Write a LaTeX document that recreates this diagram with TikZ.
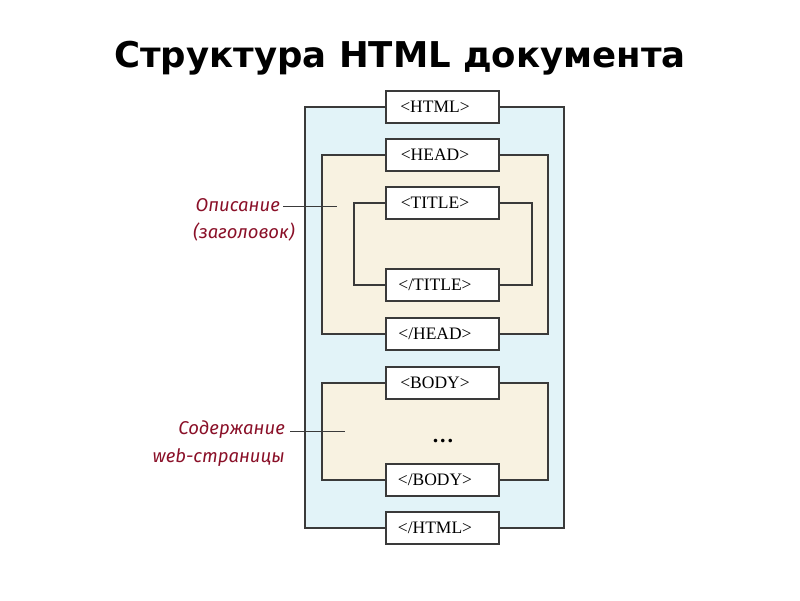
\documentclass[tikz,border=0pt]{standalone}
\usepackage{fontspec}
\setmainfont{Liberation Serif}
\newfontfamily\titlefont{DejaVu Sans}
\newfontfamily\labelfont{Fira Sans}
\definecolor{outerblue}{HTML}{E2F3F8}
\definecolor{cream}{HTML}{F8F2E1}
\definecolor{edge}{HTML}{3A3A3A}
\definecolor{lblred}{HTML}{8A1028}
\newcommand{\tg}[1]{#1\hspace*{15pt}}
\begin{document}
\begin{tikzpicture}[x=1pt,y=-1pt,
  tagbox/.style={draw=edge,line width=1.2pt,fill=white,minimum width=113pt,minimum height=32pt,inner sep=0pt,font=\fontsize{17.5}{17.5}\selectfont},
  container/.style={draw=edge,line width=1.2pt},
  lbl/.style={anchor=east,inner sep=0pt,text=lblred,font=\labelfont\itshape\fontsize{18.5}{18.5}\selectfont},
  lblline/.style={draw=edge,line width=0.8pt}]
\useasboundingbox (0,0) rectangle (800,600);
\node[font=\titlefont\bfseries\fontsize{35.5}{35.5}\selectfont] (title) at (400,58) {Структура HTML документа};
% containers
\coordinate (oTL) at (305,107); \coordinate (oBR) at (564,528);
\coordinate (hTL) at (322,155); \coordinate (hBR) at (548,334);
\coordinate (tTL) at (354,203); \coordinate (tBR) at (532,285);
\coordinate (bTL) at (322,383); \coordinate (bBR) at (548,480);
\path[container,fill=outerblue] (oTL) rectangle (oBR);
\path[container,fill=cream] (hTL) rectangle (hBR);
\path[container,fill=cream] (tTL) rectangle (tBR);
\path[container,fill=cream] (bTL) rectangle (bBR);
% tags
\node[tagbox] (html) at (442.5,107) {\tg{<HTML>}};
\node[tagbox] (head) at (442.5,155) {\tg{<HEAD>}};
\node[tagbox] (ttl) at (442.5,203) {\tg{<TITLE>}};
\node[tagbox] (ttle) at (442.5,285) {\tg{</TITLE>}};
\node[tagbox] (heade) at (442.5,334) {\tg{</HEAD>}};
\node[tagbox] (body) at (442.5,383) {\tg{<BODY>}};
\node[tagbox] (bodye) at (442.5,480) {\tg{</BODY>}};
\node[tagbox] (htmle) at (442.5,528) {\tg{</HTML>}};
\node[anchor=base,inner sep=0pt,font=\bfseries\fontsize{22}{22}\selectfont] (dots) at (443,442) {.\kern2pt.\kern2pt.};
% labels
\node[lbl] (opis) at (280,205) {Описание};
\node[lbl] (zag) at (295,232) {(заголовок)};
\coordinate (opisEnd) at (337,206);
\draw[lblline] (opis.east) ++(3,1) coordinate (opisStart) -- (opisEnd);
\node[lbl] (sod) at (285,430) {Содержание};
\node[lbl] (web) at (285,458) {web-страницы};
\coordinate (sodEnd) at (345,431);
\draw[lblline] (sod.east) ++(5,1) coordinate (sodStart) -- (sodEnd);
\end{tikzpicture}
\end{document}
